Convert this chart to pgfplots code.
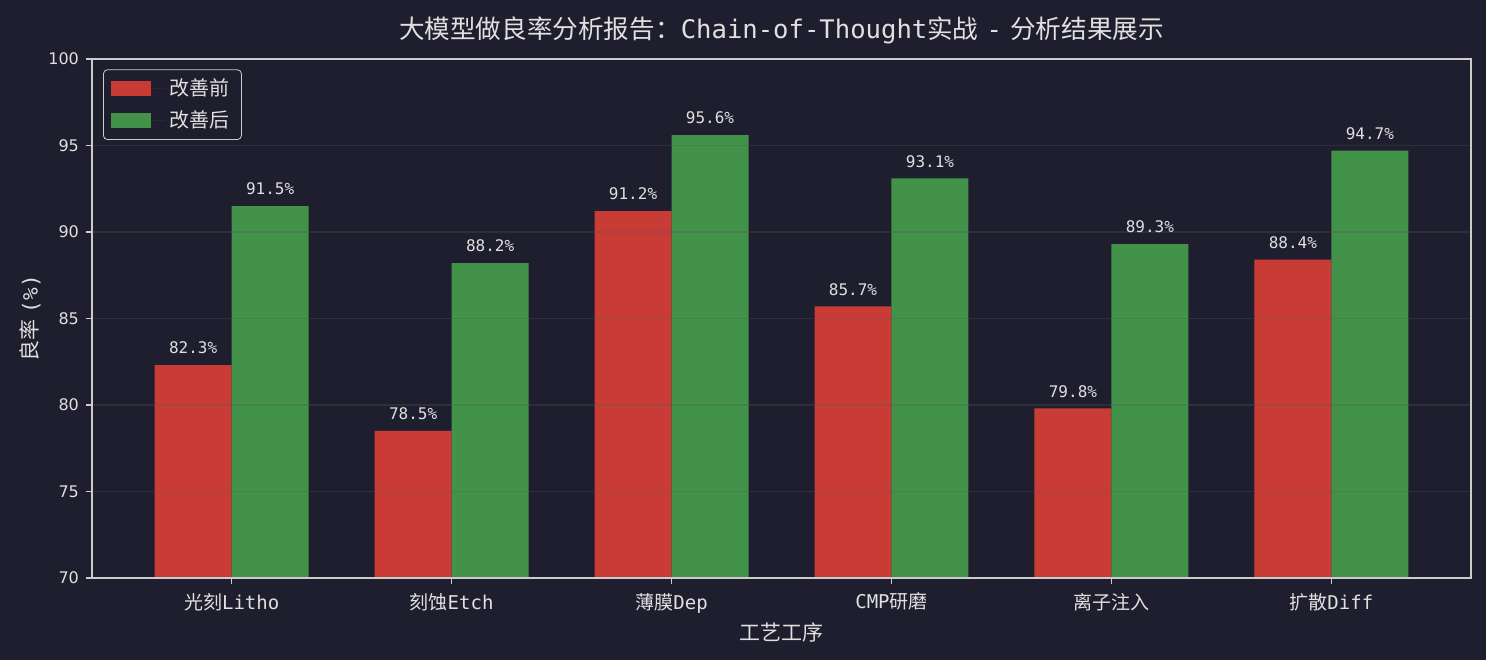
\documentclass[border=0pt]{standalone}
\usepackage{fontspec}
\usepackage{pgfplots}
\pgfplotsset{compat=1.18}
\setmainfont{DejaVu Sans}
\newfontfamily\cjk{Noto Sans CJK SC}
\newfontfamily\mono{DejaVu Sans Mono}
\definecolor{bg}{HTML}{1E1E2E}
\definecolor{redbar}{HTML}{C93C36}
\definecolor{greenbar}{HTML}{42924A}
\definecolor{frame}{HTML}{CCCCCC}
\definecolor{txt}{HTML}{E0E0E0}
\begin{document}
\begin{tikzpicture}
\fill[bg] (0pt,0pt) rectangle (743pt,330pt);
\begin{axis}[
  at={(46pt,41pt)}, anchor=south west,
  scale only axis, width=689.5pt, height=259.5pt,
  xmin=-0.635, xmax=5.635, ymin=70, ymax=100,
  ybar=0pt, bar width=0.35,
  xtick={0,1,2,3,4,5},
  xticklabels={{\cjk 光刻}{\mono Litho},{\cjk 刻蚀}{\mono Etch},{\cjk 薄膜}{\mono Dep},{\mono CMP}{\cjk 研磨},{\cjk 离子注入},{\cjk 扩散}{\mono Diff}},
  ytick={70,75,80,85,90,95,100},
  tick label style={font=\fontsize{8}{9}\selectfont, color=txt},
  xticklabel style={font=\fontsize{9.5}{10}\selectfont, yshift=-1pt},
  /pgf/number format/assume math mode=true,
  axis line style={frame, line width=0.8pt},
  major tick style={frame, line width=0.8pt},
  tick align=outside, major tick length=3pt,
  xtick pos=bottom, ytick pos=left,
  ymajorgrids, grid style={gray!60!bg, opacity=0.3, line width=0.6pt},
  axis on top,
  xlabel={\cjk 工艺工序}, ylabel={{\cjk 良率} {\mono (\%)}},
  label style={font=\fontsize{10.5}{11}\selectfont, color=txt},
  xlabel style={yshift=2pt},
  ylabel style={yshift=-3pt},
  title={{\cjk 大模型做良率分析报告：}{\mono Chain-of-Thought}{\cjk 实战} {\mono -} {\cjk 分析结果展示}},
  title style={font=\fontsize{12.8}{13}\selectfont, color=txt, yshift=-2pt},
  legend style={at={(0.008,0.98)}, anchor=north west, fill=bg, draw=frame, rounded corners=2pt, text=txt, font=\fontsize{10}{11}\selectfont\cjk, row sep=2pt, inner xsep=4pt, inner ysep=2.5pt},
  legend cell align=left,
  legend image code/.code={\fill[#1, sharp corners] (0pt,-3.5pt) rectangle (20pt,4pt); \path (0pt,0pt) -- (27pt,0pt);},
  nodes near coords={\pgfmathprintnumber[fixed,precision=1,fixed zerofill]{\pgfplotspointmeta}\%},
  nodes near coords style={font=\mono\fontsize{8}{9}\selectfont, color=txt, yshift=2pt},
]
\addplot[fill=redbar, draw=none] coordinates {(0,82.3) (1,78.5) (2,91.2) (3,85.7) (4,79.8) (5,88.4)};
\addplot[fill=greenbar, draw=none] coordinates {(0,91.5) (1,88.2) (2,95.6) (3,93.1) (4,89.3) (5,94.7)};
\legend{改善前,改善后}
\end{axis}
\pgfresetboundingbox
\path (0pt,0pt) rectangle (743pt,330pt);
\end{tikzpicture}
\end{document}
